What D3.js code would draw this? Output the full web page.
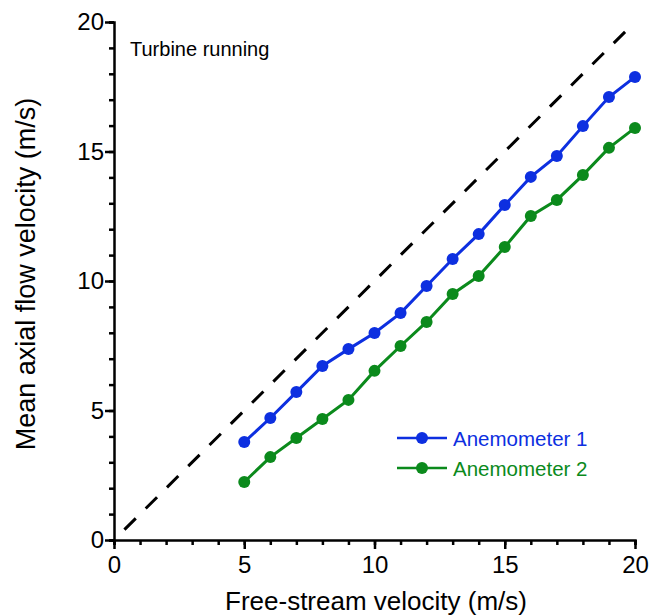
<!DOCTYPE html>
<html>
<head>
<meta charset="utf-8">
<script src="https://cdn.jsdelivr.net/npm/d3@7"></script>
<style>
  body { margin: 0; background: #fff; }
  svg { font-family: "Liberation Sans", Arial, sans-serif; }
</style>
</head>
<body>
<div id="chart"></div>
<script>
// Free-stream velocity (m/s)
var freeStream = [5, 6, 7, 8, 9, 10, 11, 12, 13, 14, 15, 16, 17, 18, 19, 20];
// Mean axial flow velocity (m/s)
var anemometer1 = [3.78, 4.71, 5.71, 6.72, 7.37, 7.99, 8.76, 9.81, 10.85, 11.81, 12.93, 14.02, 14.83, 15.98, 17.10, 17.88];
var anemometer2 = [2.24, 3.20, 3.94, 4.67, 5.41, 6.53, 7.49, 8.42, 9.50, 10.19, 11.31, 12.51, 13.13, 14.09, 15.14, 15.91];
var seriesNames = ["Anemometer 1", "Anemometer 2"];
var seriesColors = ["#0d2fe0", "#0b8a1c"];
// reference line y = x
var refLine = [[0.4, 0.4], [19.7, 19.7]];
var majorTicks = [0, 5, 10, 15, 20];

var width = 652, height = 616;
var margin = {top: 22, right: 17, bottom: 76, left: 114};

var svg = d3.select("#chart")
    .append("svg")
    .attr("width", width)
    .attr("height", height);

var x = d3.scaleLinear().domain([0, 20]).range([margin.left, width - margin.right]);
var y = d3.scaleLinear().domain([0, 20]).range([height - margin.bottom, margin.top]);

// minor ticks (every 1)
var minor = d3.range(0, 21);

svg.append("g")
    .attr("transform", "translate(0," + y(0) + ")")
    .call(d3.axisBottom(x).tickValues(minor).tickSize(5).tickFormat(""));
svg.append("g")
    .attr("transform", "translate(0," + y(0) + ")")
    .call(d3.axisBottom(x).tickValues(majorTicks).tickSize(9).tickPadding(7).tickFormat(d3.format("d")))
    .call(function(g) { g.select(".domain").remove(); })
    .selectAll("text")
    .attr("font-size", 24)
    .attr("fill", "#000");

svg.append("g")
    .attr("transform", "translate(" + x(0) + ",0)")
    .call(d3.axisLeft(y).tickValues(minor).tickSize(5).tickFormat(""));
svg.append("g")
    .attr("transform", "translate(" + x(0) + ",0)")
    .call(d3.axisLeft(y).tickValues(majorTicks).tickSize(9).tickPadding(1).tickFormat(d3.format("d")))
    .call(function(g) { g.select(".domain").remove(); })
    .selectAll("text")
    .attr("font-size", 24)
    .attr("fill", "#000");

svg.selectAll(".domain, .tick line")
    .attr("stroke", "#000")
    .attr("stroke-width", 2.5);

// dashed y = x line
svg.append("line")
    .attr("x1", x(refLine[0][0]))
    .attr("y1", y(refLine[0][1]))
    .attr("x2", x(refLine[1][0]))
    .attr("y2", y(refLine[1][1]))
    .attr("stroke", "#000")
    .attr("stroke-width", 3)
    .attr("stroke-dasharray", "16,14");

// series lines and markers
var line = d3.line()
    .x(function(d) { return x(d[0]); })
    .y(function(d) { return y(d[1]); });

[anemometer1, anemometer2].forEach(function(vals, i) {
    var pts = freeStream.map(function(v, j) { return [v, vals[j]]; });
    svg.append("path")
        .datum(pts)
        .attr("d", line)
        .attr("fill", "none")
        .attr("stroke", seriesColors[i])
        .attr("stroke-width", 3);
    svg.append("g")
        .selectAll("circle")
        .data(pts)
        .enter()
        .append("circle")
            .attr("cx", function(d) { return x(d[0]); })
            .attr("cy", function(d) { return y(d[1]); })
            .attr("r", 6)
            .attr("fill", seriesColors[i]);
});

// legend
var legend = svg.append("g");
seriesNames.forEach(function(name, i) {
    var ly = 438 + i * 30;
    legend.append("line")
        .attr("x1", 397).attr("x2", 447)
        .attr("y1", ly).attr("y2", ly)
        .attr("stroke", seriesColors[i])
        .attr("stroke-width", 2.5);
    legend.append("circle")
        .attr("cx", 422).attr("cy", ly).attr("r", 6)
        .attr("fill", seriesColors[i]);
    legend.append("text")
        .attr("x", 453).attr("y", ly + 7.5)
        .attr("font-size", 20.5)
        .attr("fill", seriesColors[i])
        .text(name);
});

// annotation
svg.append("text")
    .attr("x", 130).attr("y", 56)
    .attr("font-size", 20)
    .text("Turbine running");

// axis titles
svg.append("text")
    .attr("text-anchor", "middle")
    .attr("x", 376).attr("y", 610)
    .attr("font-size", 26)
    .text("Free-stream velocity (m/s)");
svg.append("text")
    .attr("text-anchor", "middle")
    .attr("transform", "translate(35," + 274 + ") rotate(-90)")
    .attr("font-size", 27)
    .text("Mean axial flow velocity (m/s)");
</script>
</body>
</html>
